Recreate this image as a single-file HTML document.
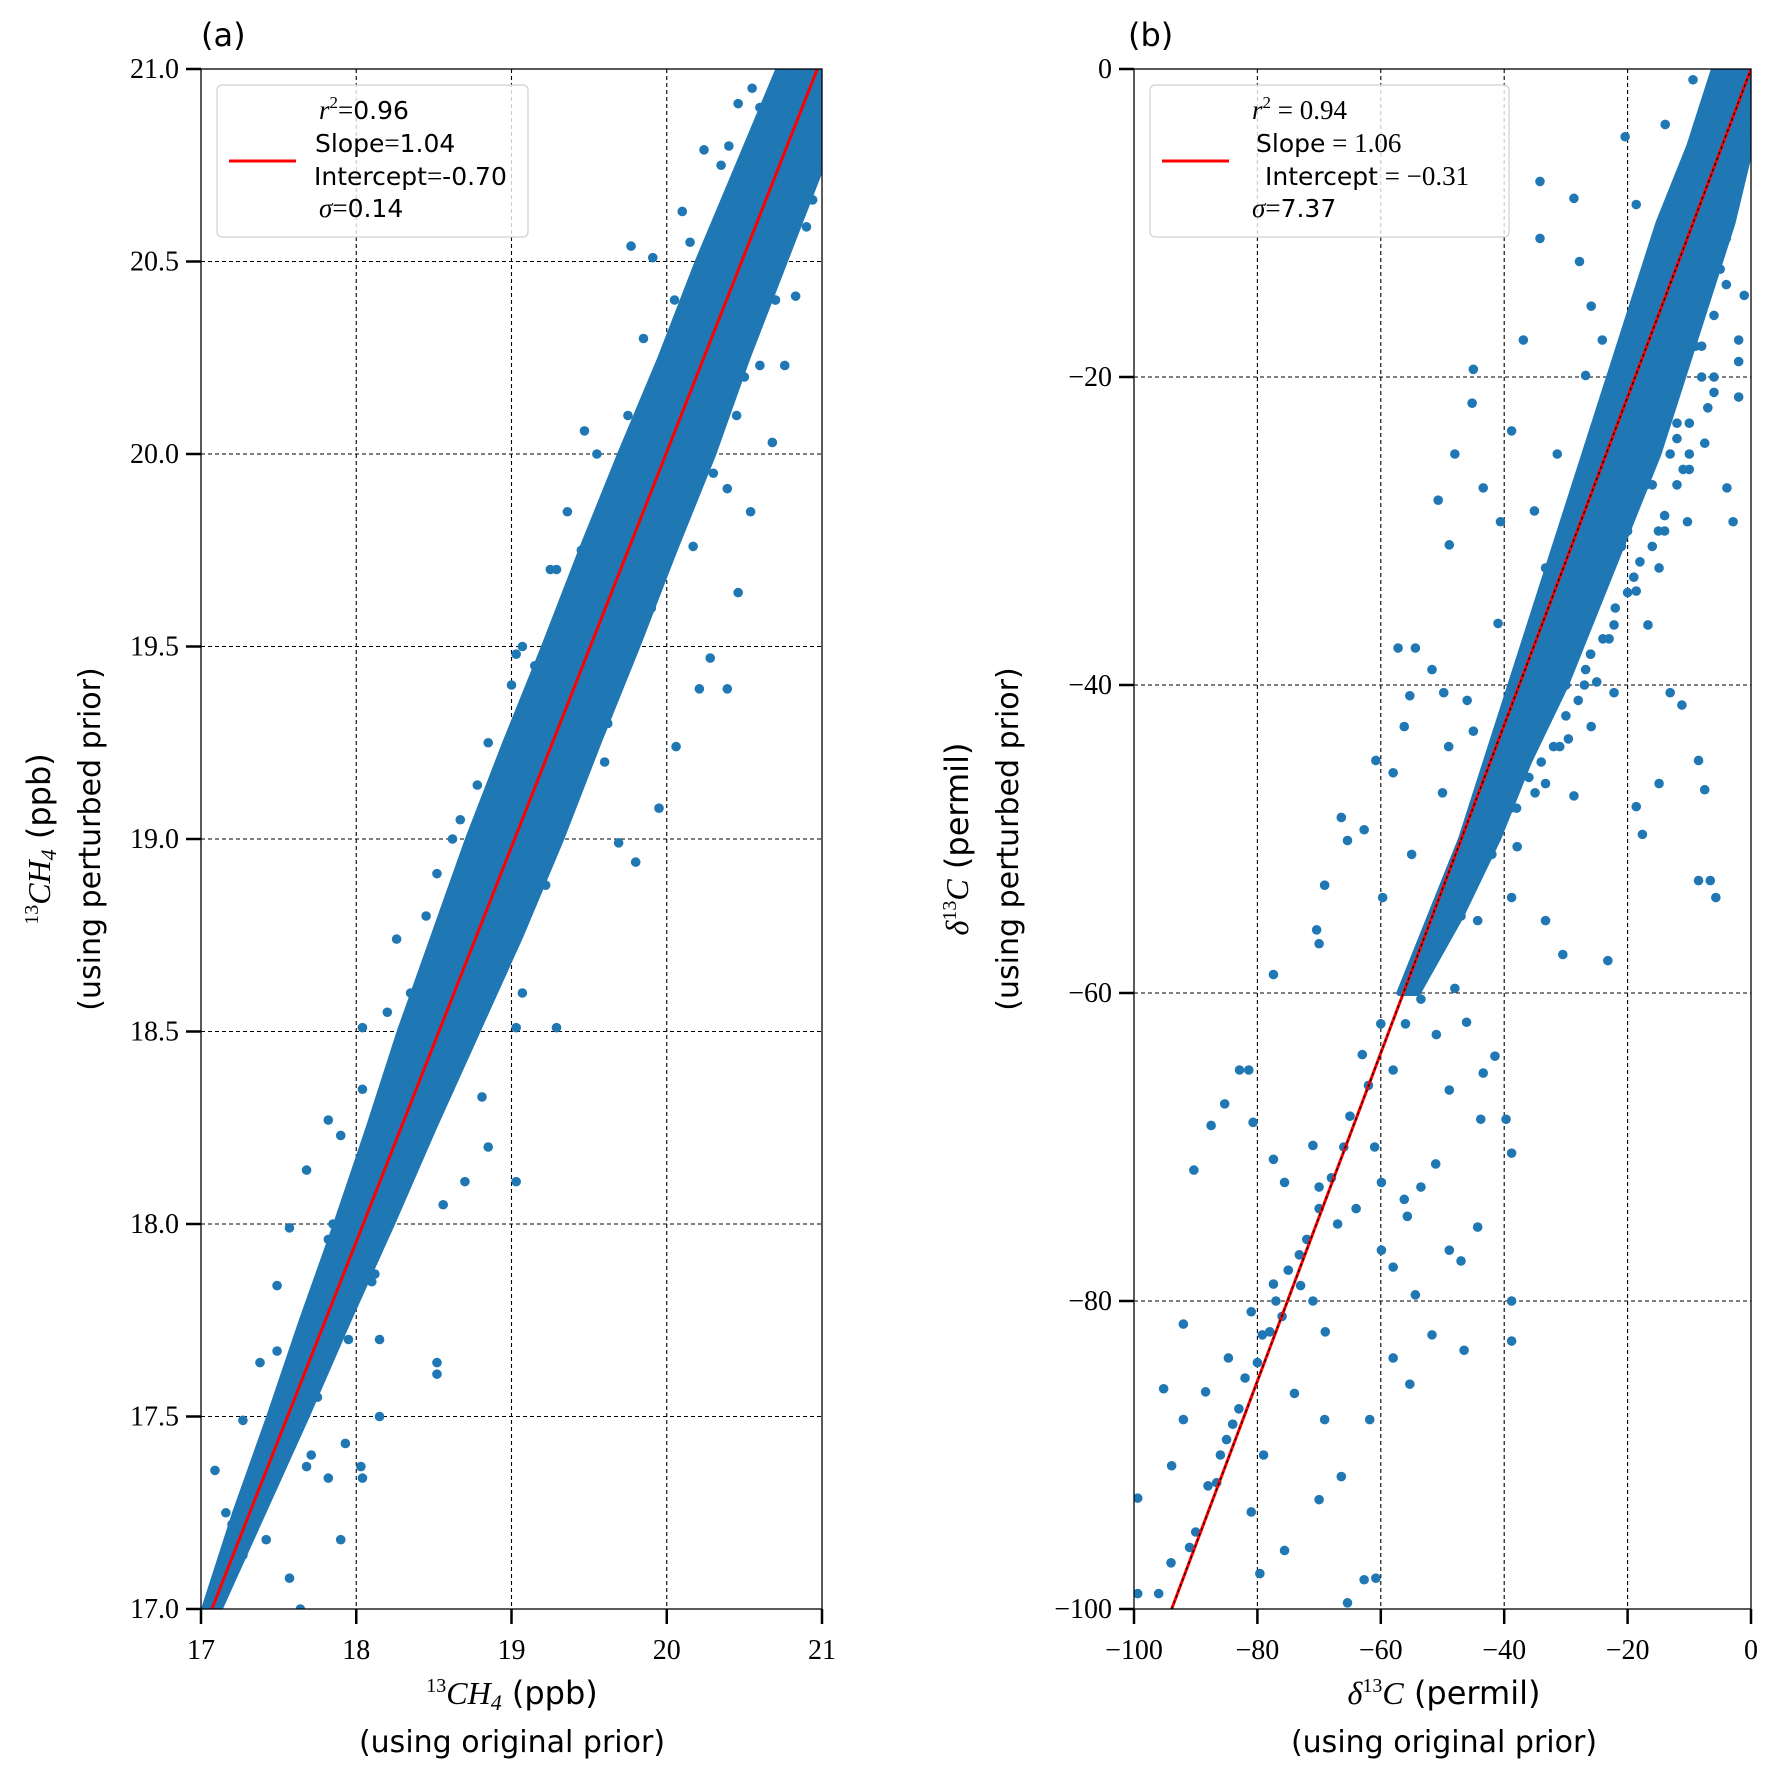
<!DOCTYPE html>
<html><head><meta charset="utf-8"><style>
body{margin:0;background:#fff}
svg{display:block}
text{font-family:"Liberation Serif",serif;fill:#000}
.sans{font-family:"DejaVu Sans","Liberation Sans",sans-serif}
</style></head><body>
<svg id="chart" width="1774" height="1780" viewBox="0 0 1774 1780" xmlns="http://www.w3.org/2000/svg">
<defs>
<clipPath id="clipA"><rect x="201" y="69" width="621" height="1540"/></clipPath>
<clipPath id="clipB"><rect x="1134" y="69" width="617" height="1540"/></clipPath>
</defs>
<g id="panelA"></g>
<g id="panelB"></g>
</svg>
<script>
// ---------- Panel (a) data ----------
const aXTicks=[17,18,19,20,21];
const aXTickLabels=["17","18","19","20","21"];
const aYTicks=[17,17.5,18,18.5,19,19.5,20,20.5,21];
const aYTickLabels=["17.0","17.5","18.0","18.5","19.0","19.5","20.0","20.5","21.0"];
const aBandY=[17.0,17.25,17.5,17.75,18.0,18.25,18.5,18.75,19.0,19.25,19.5,19.75,20.0,20.25,20.5,20.75,21.0];
const aBandLeft=[17.02,17.22,17.44,17.65,17.87,18.08,18.28,18.5,18.72,18.96,19.21,19.45,19.7,19.96,20.2,20.46,20.72];
const aBandRight=[17.12,17.40,17.68,17.95,18.23,18.5,18.78,19.06,19.32,19.56,19.81,20.05,20.3,20.52,20.76,21.0,21.2];
const aPtsX=[17.09,17.64,17.57,17.9,17.82,18.04,18.03,18.15,17.93,17.68,17.75,17.49,17.68,17.9,17.82,18.04,18.04,18.26,18.52,18.67,18.78,19.03,19.07,19.29,19.36,19.47,19.77,19.91,20.1,20.24,20.46,20.83,
19.03,18.56,18.7,18.85,18.81,19.03,19.07,19.29,19.69,19.8,19.95,20.06,20.21,20.39,20.28,20.46,20.54,20.68,20.76,20.83,20.9,20.98,20.94,20.6,20.39,20.17,19.95,19.58,19.4,19.22,18.92,18.78,18.45,18.34,18.23,18.19,18.12,18.52,18.52,18.15,17.9,17.49,17.57,17.38,17.27,17.16,17.27,17.42,17.71,18.12,17.82,
17.3,17.45,17.6,17.7,17.95,18.1,18.3,18.4,18.6,18.7,18.9,19.1,19.2,19.5,19.6,19.7,19.9,20.0,20.3,20.5,20.7,20.95,17.2,17.35,18.35,18.6,18.95,19.15,19.45,19.75,20.05,20.35,20.6,20.8,
18.2,18.45,18.62,18.85,19.0,19.25,19.55,19.85,20.15,20.4,20.55,17.85,18.0,18.4,18.68,18.98,19.4,19.62,19.9,20.12,20.45,20.7];
const aPtsY=[17.36,17.0,17.08,17.18,17.34,17.34,17.37,17.5,17.43,17.37,17.55,17.67,18.14,18.23,18.27,18.35,18.51,18.74,18.91,19.05,19.14,19.48,19.5,19.7,19.85,20.06,20.54,20.51,20.63,20.79,20.91,20.99,
18.11,18.05,18.11,18.2,18.33,18.51,18.6,18.51,18.99,18.94,19.08,19.24,19.39,19.39,19.47,19.64,19.85,20.03,20.23,20.41,20.59,20.79,20.66,20.23,19.91,19.76,19.68,19.32,19.14,18.88,18.7,18.61,18.43,18.35,18.2,18.02,17.87,17.61,17.64,17.7,17.78,17.84,17.99,17.64,17.49,17.25,17.14,17.18,17.4,18.11,17.96,
17.2,17.33,17.45,17.6,17.7,17.85,18.1,18.3,18.35,18.5,18.7,18.9,19.1,19.3,19.2,19.5,19.6,19.8,19.95,20.2,20.4,20.85,17.22,17.3,18.6,18.85,19.2,19.45,19.75,20.1,20.4,20.75,20.9,20.85,
18.55,18.8,19.0,19.25,19.4,19.7,20.0,20.3,20.55,20.8,20.95,18.0,17.9,18.2,18.45,18.75,19.1,19.3,19.6,19.85,20.1,20.4];
const aFitX=[17.07,20.97];
const aFitY=[17.0,21.0];

// ---------- Panel (b) data ----------
const bXTicks=[-100,-80,-60,-40,-20,0];
const bXTickLabels=["−100","−80","−60","−40","−20","0"];
const bYTicks=[0,-20,-40,-60,-80,-100];
const bYTickLabels=["0","−20","−40","−60","−80","−100"];
const bBandY=[0,-5,-10,-15,-20,-25,-30,-35,-40,-45,-50,-55,-60];
const bBandLeft=[-6,-10,-15,-19,-23,-27,-31,-35,-39,-43,-47,-52,-57];
const bBandRight=[0,0,-3,-7,-11,-15,-20,-25,-30,-36,-41,-47,-54];
const bPtsX=[-99.4,-99.4,-95.2,-92,-90.3,-85.3,-82.9,-81.4,-87.5,-80.7,-77.4,-75.6,-71,-70,-73.2,-77.4,-81,-79.2,-84.7,-88.4,-92,-93.9,-86.6,-81,-79.6,-75.6,-69.1,-66.4,-70,-61.8,-65.4,-62.7,-60.8,-55.3,-58,-54.4,-51.7,-46.5,-47,-48.9,-44.3,-38.8,-39.7,-43.8,-51.1,-53.5,-55.7,-59.9,-59.9,-58,-56.2,-38.8,-38.8,
-66.4,-65.4,-62.7,-59.7,-60.8,-58,-69.1,-70,-70.4,-77.4,-56.2,-55.3,-57.2,-54.4,-51.7,-49.8,-48.9,-48,-45.2,-45,-50.7,-43.4,-40.6,-38.8,-36.9,-34.2,-28.7,-27.8,-34.2,-46.1,-38.8,-43.4,-37.9,-33.3,-30.5,-23.2,-17.6,-18.6,-14.9,-8.5,-7.5,-6.6,-5.7,-8.5,-11.2,-13.1,-16.7,-22.2,-25,-25.9,-29.6,-28.7,-33.3,-2.9,-3.9,-2,-2,-1.1,-7.5,-11.2,-13.9,-18.6,-20.4,-13.9,-9.4,-7.5,-3.9,-25.9,-24.1,-26.8,-31.4,-35.1,-33.3,-29.6,-24.1,-20.4,-18.6,-13.1,-10.3,-14.9,-18.6,-22.2,-26.8,-36,-40.6,-44.3,-48,-46.1,-51,-53.5,-43.4,-41.5,-48.9,
-65,-68,-70,-72,-75,-78,-80,-83,-85,-88,-90,-62,-60,-63,-66,-73,-77,-82,-86,-91,-67,-71,-58,-56,-61,-64,-69,-74,-79,-94,-96,-84,-76,
-5,-9,-15,-19,-23,-27,-31,-35,-3,-1,-12,-17,-21,-30,-6,-10,-14,-26,-32,-37,-42,-44,-47,-52,-39,-36,
-2,-4,-6,-8,-10,-12,-16,-20,-24,-28,-4,-8,-12,-16,-20,-24,-28,-32,-36,-40,-6,-10,-14,-18,-22,-26,-30,-34,-38,-42,-1,-3,-5,-9,-13,-17,-21,-25,-29,-33,-2,-7,-11,-15,-19,-23,-27,-31,-35,-45,-50,-55,-41,-46,-49];
const bPtsY=[-92.8,-99,-85.7,-81.5,-71.5,-67.2,-65,-65,-68.6,-68.4,-70.8,-72.3,-69.9,-72.6,-77,-78.9,-80.7,-82.2,-83.7,-85.9,-87.7,-90.7,-91.8,-93.7,-97.7,-96.2,-87.7,-91.4,-92.9,-87.7,-99.6,-98.1,-98,-85.4,-83.7,-79.6,-82.2,-83.2,-77.4,-76.7,-75.2,-70.4,-68.2,-68.2,-71.1,-72.6,-74.5,-72.3,-76.7,-77.8,-73.4,-80,-82.6,
-48.6,-50.1,-49.4,-53.8,-44.9,-45.7,-53,-56.8,-55.9,-58.8,-42.7,-40.7,-37.6,-37.6,-39,-40.5,-30.9,-25,-21.7,-19.5,-28,-27.2,-29.4,-23.5,-17.6,-7.3,-8.4,-12.5,-11,-51.6,-53.8,-50.1,-50.5,-55.3,-57.5,-57.9,-49.7,-47.9,-46.4,-44.9,-46.8,-52.7,-53.8,-52.7,-41.3,-40.5,-36.1,-36.1,-39.8,-42.7,-43.5,-47.2,-46.4,-29.4,-27.2,-21.3,-17.6,-14.7,-24.3,-19.1,-13.2,-8.8,-4.4,-3.6,-0.7,-5.8,-10.3,-15.4,-17.6,-19.9,-25,-28.7,-32.4,-33.9,-32.4,-29.4,-26.5,-25,-29.4,-32.4,-33.9,-40.5,-39,-39.8,-47.2,-55.3,-59.7,-61.9,-62.7,-60.4,-65.2,-64.1,-66.3,
-68,-72,-74,-76,-78,-82,-84,-87,-89,-92,-95,-66,-62,-64,-70,-79,-80,-85,-90,-96,-75,-80,-65,-62,-70,-74,-82,-86,-90,-97,-99,-88,-81,
-12,-18,-22,-28,-30,-35,-38,-42,-8,-4,-24,-27,-31,-40,-20,-26,-30,-38,-44,-45,-50,-52,-55,-58,-48,-46,
-7,-11,-16,-20,-23,-27,-31,-34,-37,-41,-14,-18,-23,-27,-30,-33,-36,-40,-43,-47,-21,-25,-29,-32,-35,-38,-42,-45,-48,-51,-3,-9,-13,-17,-20,-24,-28,-32,-36,-39,-19,-22,-26,-30,-33,-37,-40,-44,-47,-43,-47,-51,-36,-41,-44];
const bFitX=[-93.9,0];
const bFitY=[-100,0];

const NS="http://www.w3.org/2000/svg";
function mk(tag,attrs,parent){const e=document.createElementNS(NS,tag);for(const k in attrs)e.setAttribute(k,attrs[k]);parent.appendChild(e);return e;}

function drawPanel(g,cfg){
  const {x0,x1,y0,y1,xmin,xmax,ymin,ymax,clip}=cfg;
  const sx=v=>x0+(v-xmin)/(xmax-xmin)*(x1-x0);
  const sy=v=>y1-(v-ymin)/(ymax-ymin)*(y1-y0);
  cfg.xTicks.forEach(t=>{if(t>xmin&&t<xmax){const l=mk('line',{x1:sx(t),x2:sx(t),y1:y0,y2:y1,stroke:'#000','stroke-width':1.1,'stroke-dasharray':'4,3'},g);
  
  }});
  cfg.yTicks.forEach(t=>{if(t>ymin&&t<ymax){const l=mk('line',{x1:x0,x2:x1,y1:sy(t),y2:sy(t),stroke:'#000','stroke-width':1.1,'stroke-dasharray':'4,3'},g);
  
  }});
  const cg=mk('g',{'clip-path':'url(#'+clip+')'},g);
  
  
  let pts=[];
  for(let i=0;i<cfg.bandY.length;i++)pts.push(sx(cfg.bandLeft[i])+','+sy(cfg.bandY[i]));
  for(let i=cfg.bandY.length-1;i>=0;i--)pts.push(sx(cfg.bandRight[i])+','+sy(cfg.bandY[i]));
  const band=mk('polygon',{points:pts.join(' '),fill:'#1f77b4',stroke:'#1f77b4','stroke-width':6,'stroke-linejoin':'round'},cg);
  
  
  for(let i=0;i<cfg.px.length;i++){
    const c=mk('circle',{cx:sx(cfg.px[i]),cy:sy(cfg.py[i]),r:4.8,fill:'#1f77b4'},cg);
    
    
  }
  const fl=mk('line',{x1:sx(cfg.fitX[0]),y1:sy(cfg.fitY[0]),x2:sx(cfg.fitX[1]),y2:sy(cfg.fitY[1]),stroke:'#ff0000','stroke-width':3},cg);
  
  
  if(cfg.dashed){const dl=mk('line',{x1:sx(cfg.fitX[0]),y1:sy(cfg.fitY[0]),x2:sx(cfg.fitX[1]),y2:sy(cfg.fitY[1]),stroke:'#000','stroke-width':1.2,'stroke-dasharray':'3,3'},cg);
  
  }
  const fr=mk('rect',{x:x0,y:y0,width:x1-x0,height:y1-y0,fill:'none',stroke:'#000','stroke-width':1.3},g);
  
  
  cfg.xTicks.forEach((t,i)=>{
    const tk=mk('line',{x1:sx(t),x2:sx(t),y1:y1,y2:y1+15,stroke:'#000','stroke-width':2.5},g);
    
    
    const tx=mk('text',{x:sx(t),y:y1+50,'text-anchor':'middle','font-size':28},g);
    tx.textContent=cfg.xLabels[i];
    
    
  });
  cfg.yTicks.forEach((t,i)=>{
    const tk=mk('line',{x1:x0-15,x2:x0,y1:sy(t),y2:sy(t),stroke:'#000','stroke-width':2.5},g);
    
    
    const tx=mk('text',{x:x0-22,y:sy(t)+9,'text-anchor':'end','font-size':28},g);
    tx.textContent=cfg.yLabels[i];
    
    
  });
  const lg=mk('g',{},g);
  
  
  mk('rect',{x:x0+16,y:85,width:cfg.legW,height:152,rx:5,fill:'#fff','fill-opacity':0.8,stroke:'#d0d0d0','stroke-width':1.2},lg);
  mk('line',{x1:x0+28,x2:x0+95,y1:161,y2:161,stroke:'#ff0000','stroke-width':3},lg);
  const lt=mk('g',{},lg);
  
  
  lt.innerHTML=cfg.legendHTML;
}

const SANS="font-family:'DejaVu Sans',sans-serif";
drawPanel(document.getElementById('panelA'),{x0:201,x1:822,y0:69,y1:1609,xmin:17,xmax:21,ymin:17,ymax:21,clip:'clipA',
  xTicks:aXTicks,xLabels:aXTickLabels,yTicks:aYTicks,yLabels:aYTickLabels,bandY:aBandY,bandLeft:aBandLeft,bandRight:aBandRight,
  px:aPtsX,py:aPtsY,fitX:aFitX,fitY:aFitY,legW:311,dashed:false,
  legendHTML:
   `<text x="319" y="119" font-size="27"><tspan font-style="italic">r</tspan><tspan font-size="17" dy="-11">2</tspan><tspan dy="11">=</tspan><tspan style="${SANS}" font-size="25">0.96</tspan></text>`+
   `<text x="315" y="152" font-size="25" style="${SANS}">Slope<tspan style="font-family:'Liberation Serif',serif" font-size="27">=</tspan>1.04</text>`+
   `<text x="314" y="185" font-size="25" style="${SANS}">Intercept<tspan style="font-family:'Liberation Serif',serif" font-size="27">=</tspan>-0.70</text>`+
   `<text x="319" y="217" font-size="27"><tspan font-style="italic">σ</tspan>=<tspan style="${SANS}" font-size="25">0.14</tspan></text>`});
drawPanel(document.getElementById('panelB'),{x0:1134,x1:1751,y0:69,y1:1609,xmin:-100,xmax:0,ymin:-100,ymax:0,clip:'clipB',
  xTicks:bXTicks,xLabels:bXTickLabels,yTicks:bYTicks,yLabels:bYTickLabels,bandY:bBandY,bandLeft:bBandLeft,bandRight:bBandRight,
  px:bPtsX,py:bPtsY,fitX:bFitX,fitY:bFitY,legW:359,dashed:true,
  legendHTML:
   `<text x="1252" y="119" font-size="27"><tspan font-style="italic">r</tspan><tspan font-size="17" dy="-11">2</tspan><tspan dy="11"> = 0.94</tspan></text>`+
   `<text x="1256" y="152" font-size="25" style="${SANS}">Slope<tspan style="font-family:'Liberation Serif',serif" font-size="27"> = 1.06</tspan></text>`+
   `<text x="1265" y="185" font-size="25" style="${SANS}">Intercept<tspan style="font-family:'Liberation Serif',serif" font-size="27"> = −0.31</tspan></text>`+
   `<text x="1252" y="217" font-size="27"><tspan font-style="italic">σ</tspan>=<tspan style="${SANS}" font-size="25">7.37</tspan></text>`});
</script>
<svg style="position:absolute;left:0;top:0" width="1774" height="1780">
<text class="sans" x="201" y="46" font-size="32">(a)</text>
<text class="sans" x="1128" y="46" font-size="32">(b)</text>
<text x="512" y="1704" text-anchor="middle" font-size="32"><tspan font-size="20" dy="-12">13</tspan><tspan font-style="italic" dy="12">CH</tspan><tspan font-style="italic" font-size="22" dy="6">4</tspan><tspan dy="-6" style="font-family:'DejaVu Sans',sans-serif"> (ppb)</tspan></text>
<text class="sans" x="512" y="1752" text-anchor="middle" font-size="30">(using original prior)</text>
<text x="1444" y="1704" text-anchor="middle" font-size="32"><tspan font-style="italic">δ</tspan><tspan font-size="20" dy="-12">13</tspan><tspan font-style="italic" dy="12">C</tspan><tspan style="font-family:'DejaVu Sans',sans-serif"> (permil)</tspan></text>
<text class="sans" x="1444" y="1752" text-anchor="middle" font-size="30">(using original prior)</text>
<g transform="translate(50,839) rotate(-90)"><text x="0" y="0" text-anchor="middle" font-size="32"><tspan font-size="20" dy="-12">13</tspan><tspan font-style="italic" dy="12">CH</tspan><tspan font-style="italic" font-size="22" dy="6">4</tspan><tspan dy="-6" style="font-family:'DejaVu Sans',sans-serif"> (ppb)</tspan></text>
<text class="sans" x="0" y="50" text-anchor="middle" font-size="30">(using perturbed prior)</text></g>
<g transform="translate(968,839) rotate(-90)"><text x="0" y="0" text-anchor="middle" font-size="32"><tspan font-style="italic">δ</tspan><tspan font-size="20" dy="-12">13</tspan><tspan font-style="italic" dy="12">C</tspan><tspan style="font-family:'DejaVu Sans',sans-serif"> (permil)</tspan></text>
<text class="sans" x="0" y="50" text-anchor="middle" font-size="30">(using perturbed prior)</text></g>
</svg>
</body></html>
